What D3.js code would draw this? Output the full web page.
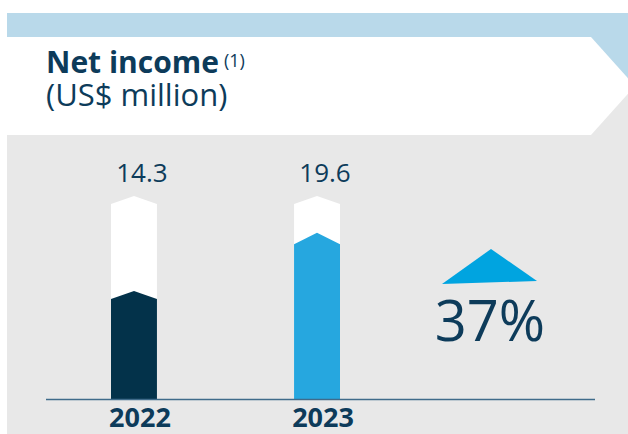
<!DOCTYPE html>
<html>
<head>
<meta charset="utf-8">
<script src="https://cdn.jsdelivr.net/npm/d3@7"></script>
<style>
	body { margin: 0; background: #ffffff; }
	svg { display: block; }
</style>
</head>
<body>
<div id="chart"></div>
<script>
	// data
	var years = ["2022", "2023"];
	var net_income = [14.3, 19.6];
	var growth_label = "37%";
	var track_max = 23.5; // height of the white pillar behind each bar

	var W = 628, H = 434;
	var text_color = "#0d3b5a";
	var bar_colors = ["#03324a", "#26a7df"];
	var tip_height = [8, 11.5]; // chevron on top of each fill

	var svg = d3.select("#chart").append("svg")
		.attr("width", W)
		.attr("height", H);

	// background panels
	svg.append("rect")
		.attr("x", 7).attr("y", 13)
		.attr("width", W - 7).attr("height", 73)
		.attr("fill", "#b9d9ea");
	svg.append("rect")
		.attr("x", 7).attr("y", 86)
		.attr("width", W - 7).attr("height", H - 86)
		.attr("fill", "#e8e8e8");

	// header arrow
	svg.append("polygon")
		.attr("points", [[7, 37], [591, 37], [635, 86], [591, 135], [7, 135]].join(" "))
		.attr("fill", "#ffffff");

	var title = svg.append("text")
		.attr("x", 46)
		.attr("y", 73)
		.attr("font-family", "Open Sans")
		.attr("fill", text_color);
	title.append("tspan")
		.attr("font-weight", "bold")
		.attr("font-size", "30px")
		.text("Net income");
	title.append("tspan")
		.attr("font-size", "18px")
		.attr("dx", 5)
		.attr("dy", -6)
		.text("(1)");

	svg.append("text")
		.attr("x", 46)
		.attr("y", 106)
		.attr("font-family", "Open Sans")
		.attr("font-size", "31px")
		.attr("fill", text_color)
		.text("(US$ million)");

	// scales
	var x = d3.scaleBand()
		.domain(years)
		.range([111, 340])
		.paddingInner(0.749);

	var y = d3.scaleLinear()
		.domain([4.6, track_max])
		.range([399, 204]);

	function chevron(x0, w, top, base, tip) {
		return [[x0, base], [x0, top], [x0 + w / 2, top - tip], [x0 + w, top], [x0 + w, base]].join(" ");
	}

	var bars = svg.selectAll(".bar")
		.data(years)
		.enter().append("g")
		.attr("class", "bar");

	bars.append("polygon")
		.attr("points", function(d){ return chevron(x(d), x.bandwidth(), y(track_max), y.range()[0], 8); })
		.attr("fill", "#ffffff");

	bars.append("polygon")
		.attr("points", function(d, i){ return chevron(x(d), x.bandwidth(), y(net_income[i]), y.range()[0], tip_height[i]); })
		.attr("fill", function(d, i){ return bar_colors[i]; });

	bars.append("text")
		.attr("x", function(d){ return x(d) + x.bandwidth() / 2 + 8; })
		.attr("y", 182)
		.attr("text-anchor", "middle")
		.attr("font-family", "Open Sans")
		.attr("font-size", "26px")
		.attr("fill", text_color)
		.text(function(d, i){ return net_income[i].toFixed(1); });

	// baseline
	svg.append("line")
		.attr("x1", 46).attr("x2", 595)
		.attr("y1", 399.5).attr("y2", 399.5)
		.attr("stroke", "#3f6b8a")
		.attr("stroke-width", 1.5);

	bars.append("text")
		.attr("x", function(d){ return x(d) + x.bandwidth() / 2 + 6; })
		.attr("y", 427)
		.attr("text-anchor", "middle")
		.attr("font-family", "Open Sans")
		.attr("font-weight", "bold")
		.attr("font-size", "27px")
		.attr("fill", text_color)
		.text(function(d){ return d; });

	// growth marker
	svg.append("polygon")
		.attr("points", [[442, 284], [491, 249], [537, 281]].join(" "))
		.attr("fill", "#00a4e0");

	svg.append("text")
		.attr("x", 490)
		.attr("y", 341)
		.attr("text-anchor", "middle")
		.attr("font-family", "Open Sans")
		.attr("font-size", "56px")
		.attr("fill", text_color)
		.text(growth_label);
</script>
</body>
</html>
